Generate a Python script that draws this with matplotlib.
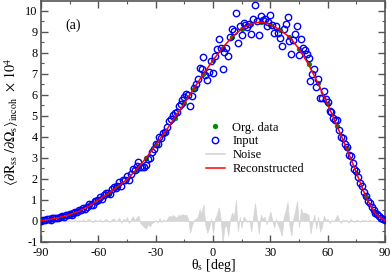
import matplotlib
matplotlib.use("Agg")
import matplotlib.pyplot as plt
import numpy as np
from matplotlib.ticker import MultipleLocator
from matplotlib.lines import Line2D

# ---- data ----
theta_org = list(range(-90, 91, 5))
org_data = [0.02, 0.08, 0.17, 0.30, 0.47, 0.70, 1.00, 1.30, 1.62, 1.98,
            2.45, 3.00, 3.60, 4.25, 4.90, 5.60, 6.30, 7.00, 7.65, 8.25,
            8.75, 9.15, 9.38, 9.45, 9.35, 9.10, 8.75, 8.20, 7.45, 6.55,
            5.55, 4.50, 3.45, 2.30, 1.15, 0.38, 0.03]

theta_fine = list(range(-90, 91, 1))
reconstructed = [
    0.02, 0.03, 0.04, 0.06, 0.07, 0.08, 0.10, 0.12, 0.13, 0.15,
    0.17, 0.20, 0.22, 0.25, 0.27, 0.30, 0.33, 0.37, 0.40, 0.44,
    0.47, 0.52, 0.56, 0.61, 0.65, 0.70, 0.76, 0.82, 0.88, 0.94,
    1.00, 1.06, 1.12, 1.18, 1.24, 1.30, 1.36, 1.43, 1.49, 1.56,
    1.62, 1.69, 1.76, 1.84, 1.91, 1.98, 2.07, 2.17, 2.26, 2.36,
    2.45, 2.56, 2.67, 2.78, 2.89, 3.00, 3.12, 3.24, 3.36, 3.48,
    3.60, 3.73, 3.86, 3.99, 4.12, 4.25, 4.38, 4.51, 4.64, 4.77,
    4.90, 5.04, 5.18, 5.32, 5.46, 5.60, 5.74, 5.88, 6.02, 6.16,
    6.30, 6.44, 6.58, 6.72, 6.86, 7.00, 7.13, 7.26, 7.39, 7.52,
    7.65, 7.77, 7.89, 8.01, 8.13, 8.25, 8.35, 8.45, 8.55, 8.65,
    8.75, 8.83, 8.91, 8.99, 9.07, 9.15, 9.20, 9.24, 9.29, 9.33,
    9.38, 9.40, 9.42, 9.44, 9.45, 9.45, 9.45, 9.43, 9.41, 9.38,
    9.35, 9.30, 9.25, 9.20, 9.15, 9.10, 9.03, 8.96, 8.89, 8.82,
    8.75, 8.64, 8.53, 8.42, 8.31, 8.20, 8.05, 7.90, 7.75, 7.60,
    7.45, 7.27, 7.09, 6.91, 6.73, 6.55, 6.35, 6.15, 5.95, 5.75,
    5.55, 5.34, 5.13, 4.92, 4.71, 4.50, 4.29, 4.08, 3.87, 3.66,
    3.45, 3.22, 2.99, 2.76, 2.53, 2.30, 2.07, 1.84, 1.61, 1.38,
    1.15, 0.97, 0.80, 0.65, 0.50, 0.38, 0.28, 0.20, 0.12, 0.07,
    0.03]

noise = [
    0.00, 0.02, -0.01, 0.03, 0.01, -0.02, 0.02, 0.00, 0.03, -0.01,
    0.02, 0.04, -0.02, 0.03, 0.00, 0.05, -0.03, 0.02, 0.04, -0.02,
    0.05, 0.00, 0.08, -0.04, 0.03, 0.10, 0.02, -0.05, 0.06, 0.03,
    0.00, 0.07, -0.05, 0.04, 0.10, 0.02, -0.06, 0.08, 0.12, 0.00,
    0.05, 0.15, -0.08, 0.10, 0.03, 0.18, -0.10, 0.08, 0.22, 0.05,
    0.15, 0.25, -0.10, -0.20, -0.30, -0.35, -0.15, -0.25, -0.10, -0.05,
    0.05, -0.08, 0.15, -0.05, 0.08, 0.00, 0.10, 0.25, 0.20, 0.28,
    0.22, 0.15, 0.30, 0.25, 0.32, 0.28, 0.30, 0.10, -0.55, -0.20,
    0.05, 0.10, 0.20, 0.55, 0.35, 0.80, -0.20, -0.55, -0.30, 0.10,
    -0.60, 0.10, 0.30, 0.65, 0.10, -1.00, -0.30, -0.20, -0.70, 0.10,
    0.40, 0.20, 1.00, -0.50, 0.20, -0.30, 0.20, 0.10, -0.05, 0.05,
    -0.50, 0.20, 0.85, 0.10, -0.60, 0.30, 0.10, 0.20, -0.15, 0.10,
    0.45, 0.05, -0.30, 0.10, -0.20, -0.40, -0.70, 0.20, 0.50, 0.90,
    -0.20, -0.70, 0.10, 0.50, 0.95, -0.30, 0.60, 0.35, 0.40, 0.35,
    0.30, -0.60, -0.10, 0.30, -0.35, 0.20, -0.50, -0.30, 0.25, 0.05,
    0.10, -0.10, 0.05, 0.00, 0.10, 0.30, 0.05, -0.10, 0.08, 0.02,
    0.05, -0.08, 0.10, 0.02, -0.05, 0.06, 0.03, -0.04, 0.05, 0.02,
    0.04, -0.03, 0.05, 0.02, 0.03, -0.02, 0.04, 0.02, 0.03, 0.01,
    0.02]

input_data = [r + n for r, n in zip(reconstructed, noise)]

# ---- style ----
plt.rcParams['font.family'] = ['Liberation Serif', 'DejaVu Serif']
plt.rcParams['mathtext.fontset'] = 'stix'
plt.rcParams['axes.unicode_minus'] = False

fig = plt.figure(figsize=(3.92, 2.74), dpi=100)
ax = fig.add_axes([41/392, 1 - 242/274, 344/392, 241/274])

spine_col = '#555555'
noise_col = '#d6d6d6'

ax.fill_between(theta_fine, 0, noise, color=noise_col, lw=0.5, zorder=1)
ax.plot(theta_fine, input_data, 'o', mfc='none', mec='#0000ff', ms=4.6, mew=1.0, zorder=3)
ax.plot(theta_org, org_data, 'o', color='#008c00', ms=3.8, mew=0, zorder=2)
ax.plot(theta_fine, reconstructed, '-', color='#ff0000', lw=1.1, zorder=4)

ax.set_xlim(-90, 90)
ax.set_ylim(-1, 10.47)
ax.xaxis.set_major_locator(MultipleLocator(30))
ax.xaxis.set_minor_locator(MultipleLocator(15))
ax.yaxis.set_major_locator(MultipleLocator(1))
ax.yaxis.set_minor_locator(MultipleLocator(0.5))
ax.tick_params(which='both', direction='in', top=True, right=True, color=spine_col,
               labelsize=8.8)
ax.tick_params(axis='x', pad=3.5)
ax.tick_params(axis='y', pad=2.5)
ax.tick_params(which='major', length=5, width=1.0)
ax.tick_params(which='minor', length=2.5, width=0.8)
for s in ax.spines.values():
    s.set_color(spine_col)
    s.set_linewidth(1.2)

ax.set_xlabel('θ$_{\\rm s}$ [deg]', fontsize=10, labelpad=-1)
ax.set_ylabel(r'$\langle\partial{\rm R}_{\rm ss}\ /\partial\Omega_{\rm s}\rangle_{\rm incoh}$  $\times\ 10^4$',
              fontsize=10.2, labelpad=3)

ax.text(0.07, 0.90, '(a)', transform=ax.transAxes, fontsize=10, va='center', ha='left')

handles = [
    Line2D([], [], marker='o', ls='none', color='#008c00', ms=3.8, mew=0),
    Line2D([], [], marker='o', ls='none', mfc='none', mec='#0000ff', ms=4.6, mew=1.0),
    Line2D([], [], color=noise_col, lw=1.2),
    Line2D([], [], color='#ff0000', lw=1.1),
]
labels = ['Org. data', 'Input', 'Noise', 'Reconstructed']
ax.legend(handles, labels, loc='upper left', bbox_to_anchor=(0.48, 0.50),
          frameon=False, fontsize=9, handlelength=1.5, handletextpad=0.6,
          labelspacing=0.15, borderaxespad=0, borderpad=0)

fig.savefig('out.png', dpi=100)
